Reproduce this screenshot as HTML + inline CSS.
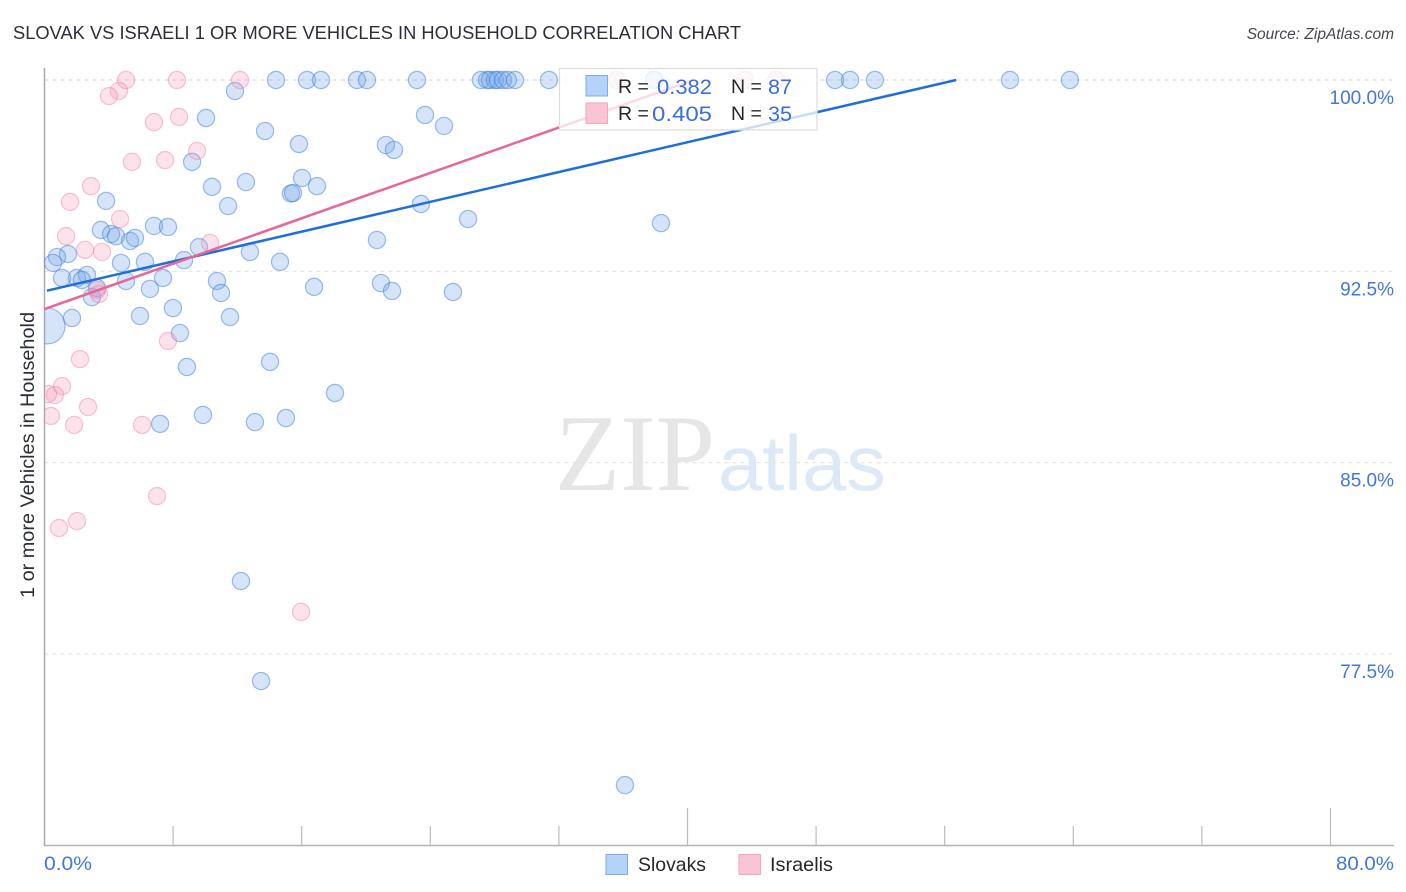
<!DOCTYPE html>
<html lang="en">
<head>
<meta charset="utf-8">
<title>Slovak vs Israeli 1 or more Vehicles in Household Correlation Chart</title>
<style>
html,body{margin:0;padding:0;background:#fff;}
body{width:1406px;height:892px;overflow:hidden;}
svg{display:block;font-family:"Liberation Sans",Arial,sans-serif;filter:blur(0.3px);}
</style>
</head>
<body>
<svg id="chart" width="1406" height="892" viewBox="0 0 1406 892" xmlns="http://www.w3.org/2000/svg">
  <defs>
    <clipPath id="plot-clip"><rect x="44.5" y="0" width="1350" height="845"></rect></clipPath>
  </defs>
  <text x="13" y="39" font-size="18.5" fill="#2b2f36" textLength="728" lengthAdjust="spacingAndGlyphs">SLOVAK VS ISRAELI 1 OR MORE VEHICLES IN HOUSEHOLD CORRELATION CHART</text>
  <text x="1394" y="39" font-size="15.5" font-style="italic" fill="#44484f" text-anchor="end">Source: ZipAtlas.com</text>
  <g>
    <text x="555" y="490" font-family="'Liberation Serif',serif" font-size="109" fill="#e6e6e6" textLength="160" lengthAdjust="spacingAndGlyphs">ZIP</text>
    <text x="718" y="490" font-size="78" fill="#dee9f8" textLength="168" lengthAdjust="spacingAndGlyphs">atlas</text>
  </g>
  <g id="grid"></g>
  <g id="axes"></g>
  <g id="slovak-points" clip-path="url(#plot-clip)"></g>
  <g id="israeli-points" clip-path="url(#plot-clip)"></g>
  <g id="trends"></g>
  <text transform="translate(34,598) rotate(-90)" font-size="19.5" fill="#2b2f36" textLength="286" lengthAdjust="spacingAndGlyphs">1 or more Vehicles in Household</text>
  <g id="y-labels"></g>
  <text x="44" y="870" font-size="19" fill="#4277da" textLength="48" lengthAdjust="spacingAndGlyphs">0.0%</text>
  <text x="1394" y="870" font-size="19" fill="#4277da" text-anchor="end" textLength="58" lengthAdjust="spacingAndGlyphs">80.0%</text>
  <g>
    <rect x="559.5" y="68.5" width="257.5" height="61.5" fill="#fff" fill-opacity="0.76" stroke="#dcdcdc" stroke-width="1.2"></rect>
    <rect x="586" y="75.5" width="21.5" height="20.5" fill="#b5d2f8" stroke="#7fabe6" stroke-width="1"></rect>
    <rect x="586" y="103" width="21.5" height="20.5" fill="#fbc4d5" stroke="#f2a6c0" stroke-width="1"></rect>
    <text x="618" y="93" font-size="19.5" fill="#26282c">R =</text>
    <text x="712" y="94" font-size="21.5" fill="#3a6fd8" text-anchor="end" textLength="55" lengthAdjust="spacingAndGlyphs">0.382</text>
    <text x="731" y="93" font-size="19.5" fill="#26282c">N =</text>
    <text x="768" y="94" font-size="21.5" fill="#3a6fd8" textLength="24" lengthAdjust="spacingAndGlyphs">87</text>
    <text x="618" y="120" font-size="19.5" fill="#26282c">R =</text>
    <text x="712" y="121" font-size="21.5" fill="#3a6fd8" text-anchor="end" textLength="60" lengthAdjust="spacingAndGlyphs">0.405</text>
    <text x="731" y="120" font-size="19.5" fill="#26282c">N =</text>
    <text x="768" y="121" font-size="21.5" fill="#3a6fd8" textLength="24" lengthAdjust="spacingAndGlyphs">35</text>
  </g>
  <g>
    <rect x="606" y="854.5" width="21.5" height="20" fill="#b5d2f8" stroke="#7fabe6" stroke-width="1"></rect>
    <text x="638" y="871" font-size="19.5" fill="#26282c" textLength="68" lengthAdjust="spacingAndGlyphs">Slovaks</text>
    <rect x="739" y="854.5" width="21.5" height="20" fill="#fbc4d5" stroke="#f2a6c0" stroke-width="1"></rect>
    <text x="770" y="871" font-size="19.5" fill="#26282c" textLength="63" lengthAdjust="spacingAndGlyphs">Israelis</text>
  </g>
</svg>
<script>
const yTickValues = [100, 92.5, 85, 77.5];
const yTickLabels = ["100.0%", "92.5%", "85.0%", "77.5%"];
const xTickValues = [8, 16, 24, 32, 40, 48, 56, 64, 72, 80];
const xMajorTicks = [40, 80];

const slovakX = [14.40,16.33,17.20,19.44,20.06,23.17,27.15,27.53,27.71,28.02,28.21,28.52,28.83,29.27,31.38,37.92,49.18,50.11,51.66,60.06,63.79,
  11.85,10.05,13.72,15.83,23.67,24.85,21.24,21.74,9.18,12.53,10.42,16.02,16.95,15.33,15.46,11.42,3.83,23.42,26.35,38.35,
  3.51,4.14,4.45,5.32,5.63,6.81,7.68,9.61,20.68,12.78,14.65,8.68,6.25,4.76,1.46,0.78,0.53,1.09,2.02,2.64,2.33,5.07,6.56,7.37,10.73,10.98,16.77,20.93,21.62,25.41,
  2.95,3.27,5.94,7.99,11.54,1.71,8.43,8.86,14.03,18.07,9.86,7.19,13.09,15.02,12.22,13.47,36.11];
const slovakY = [100,100,100,100,100,100,100,100,100,100,100,100,100,100,100,100,100,100,100,100,100,
  99.57,98.51,98.00,97.49,98.63,98.20,97.45,97.26,96.79,96.00,95.81,96.16,95.84,95.55,95.57,95.06,95.26,95.14,94.55,94.39,
  94.12,93.96,93.88,93.69,93.81,94.28,94.24,93.45,93.73,93.26,92.87,92.94,92.87,92.83,93.18,93.06,92.83,92.24,92.24,92.36,92.16,92.12,91.81,92.24,92.12,91.65,91.89,92.04,91.73,91.69,
  91.49,91.85,90.75,91.06,90.71,90.67,90.08,88.75,88.95,87.73,86.87,86.52,86.59,86.75,80.36,76.44,72.36];
const slovakLargeX = [0.16];
const slovakLargeY = [90.36];

const israeliX = [5.07,8.24,12.16,35.61,43.58,45.51,4.63,4.01,8.37,6.81,9.49,7.50,5.44,2.89,1.59,4.70,1.34,10.30,2.52,3.58,3.27,3.39,7.68,2.21,1.09,0.65,0.22,0.40,1.84,2.71,6.07,7.00,2.02,0.90,15.96];
const israeliY = [100,100,100,100,100,100,99.57,99.37,98.55,98.35,97.22,96.86,96.79,95.84,95.22,94.55,93.88,93.61,93.34,93.26,91.77,91.61,89.77,89.06,88.00,87.65,87.69,86.83,86.48,87.18,86.48,83.69,82.71,82.44,79.15];

const slovakTrend = [91.72, 0.146];
const israeliTrend = [91.02, 0.2224];

const NS = "http://www.w3.org/2000/svg";
function xScale(v) { return 44.5 + v * 16.075; }
function yScale(v) { return 80 + (100 - v) * 25.51; }
function make(parentId, tag, attrs) {
  const el = document.createElementNS(NS, tag);
  for (const k in attrs) el.setAttribute(k, attrs[k]);
  document.getElementById(parentId).appendChild(el);
  return el;
}

yTickValues.forEach(function (v, i) {
  const line = make("grid", "line", {x1: 44.5, x2: 1394, y1: yScale(v), y2: yScale(v), stroke: i === 0 ? "#d4d4d4" : "#e4e4e4", "stroke-width": 1.1, "stroke-dasharray": "4 4"});
  
  
  const label = make("y-labels", "text", {x: 1394, y: yScale(v) + 24, "font-size": 19, fill: "#4277da", "text-anchor": "end"});
  label.textContent = yTickLabels[i];
  
  
});

const yAxisLine = make("axes", "line", {x1: 44.5, x2: 44.5, y1: 68, y2: 846, stroke: "#aaaaaa", "stroke-width": 1.5});


const xAxisLine = make("axes", "line", {x1: 44, x2: 1394, y1: 845.5, y2: 845.5, stroke: "#b4b4b4", "stroke-width": 1.5});


xTickValues.forEach(function (v) {
  const top = xMajorTicks.indexOf(v) >= 0 ? 808 : 826;
  const tick = make("axes", "line", {x1: xScale(v), x2: xScale(v), y1: top, y2: 845, stroke: "#bcbcbc", "stroke-width": 1.2});
  
  
});

slovakX.forEach(function (v, i) {
  const c = make("slovak-points", "circle", {cx: xScale(v), cy: yScale(slovakY[i]), r: 8.6, fill: "rgba(115,165,232,0.3)", stroke: "rgba(60,125,220,0.5)", "stroke-width": 1.2});
  
  
});
slovakLargeX.forEach(function (v, i) {
  const c = make("slovak-points", "circle", {cx: xScale(v), cy: yScale(slovakLargeY[i]), r: 18, fill: "rgba(115,165,232,0.3)", stroke: "rgba(60,125,220,0.5)", "stroke-width": 1.2});
  
  
});
israeliX.forEach(function (v, i) {
  const c = make("israeli-points", "circle", {cx: xScale(v), cy: yScale(israeliY[i]), r: 8.6, fill: "rgba(245,150,182,0.28)", stroke: "rgba(236,120,160,0.42)", "stroke-width": 1.2});
  
  
});

function trendEnd(t) { return Math.min(80, (100 - t[0]) / t[1]); }
const slovakLine = make("trends", "line", {x1: xScale(0.15), y1: yScale(slovakTrend[0] + slovakTrend[1] * 0.15), x2: xScale(trendEnd(slovakTrend)), y2: yScale(slovakTrend[0] + slovakTrend[1] * trendEnd(slovakTrend)), stroke: "#1f6fdb", "stroke-width": 2.5});


const israeliLine = make("trends", "line", {x1: xScale(0), y1: yScale(israeliTrend[0]), x2: xScale(trendEnd(israeliTrend)), y2: yScale(israeliTrend[0] + israeliTrend[1] * trendEnd(israeliTrend)), stroke: "#e8659a", "stroke-width": 2.5});


</script>
</body>
</html>
